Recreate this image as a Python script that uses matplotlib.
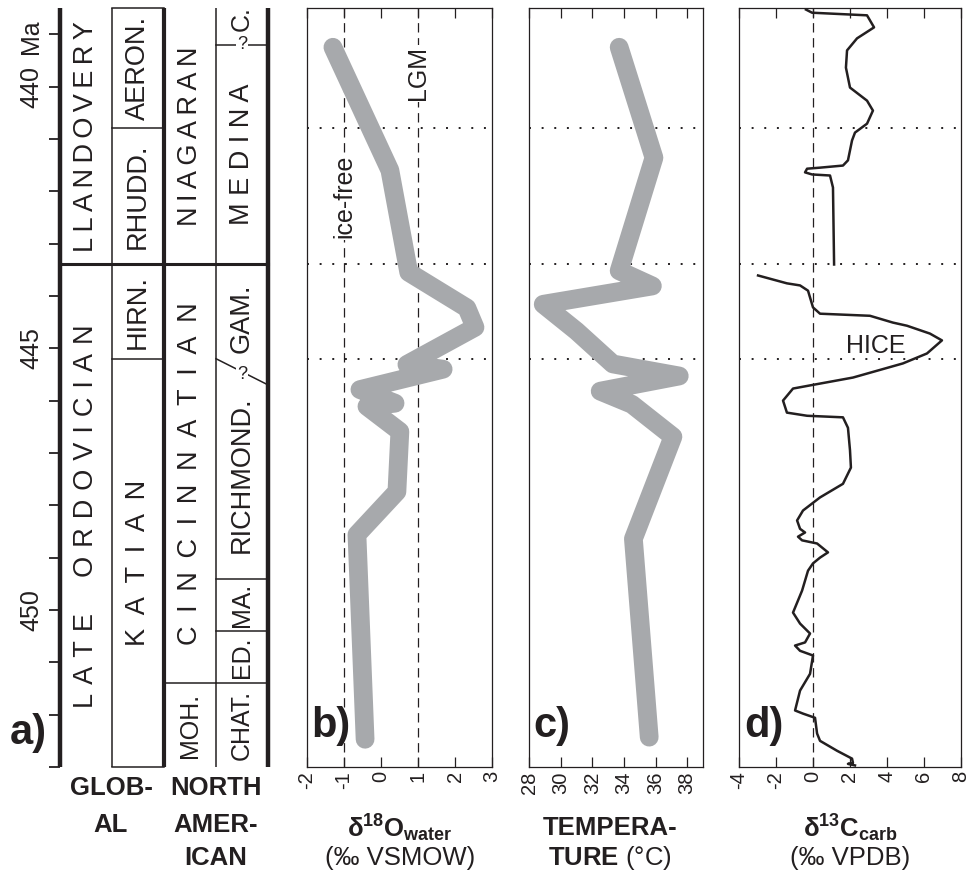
import matplotlib
matplotlib.use('Agg')
import matplotlib.pyplot as plt
from matplotlib.transforms import blended_transform_factory, ScaledTranslation

plt.rcParams['font.family'] = ['Liberation Sans', 'DejaVu Sans']
plt.rcParams['mathtext.fontset'] = 'custom'
plt.rcParams['mathtext.rm'] = 'Liberation Sans'
plt.rcParams['mathtext.bf'] = 'Liberation Sans:bold'
plt.rcParams['mathtext.default'] = 'bf'

INK = '#231f20'
GREY = '#a7a9ac'

# age axis (Ma), top of column and base
age_top, age_bot = 438.5, 453.0
age_ticks = [440, 445, 450]
age_ticklabels = ['440', '445', '450']
corr_lines = [440.8, 443.4, 445.2]      # dotted lines across b-d
sil_ord = 443.4                        # Silurian / Ordovician boundary

# stratigraphic columns, labels and their boundaries (Ma)
series_labels = ['LLANDOVERY', 'LATE ORDOVICIAN']
series_edges = [438.5, 443.4, 453.0]
stage_labels = ['AERON.', 'RHUDD.', 'HIRN.', 'KATIAN']
stage_edges = [438.5, 440.8, 443.4, 445.2, 453.0]
na_series_labels = ['NIAGARAN', 'CINCINNATIAN', 'MOH.']
na_series_edges = [438.5, 443.4, 451.4, 453.0]
na_stage_labels = ['C.', 'MEDINA', 'GAM.', 'RICHMOND.', 'MA.', 'ED.', 'CHAT.']
na_stage_edges = [438.5, 439.2, 443.4, 445.45, 449.4, 450.4, 451.4, 453.0]
gam_rich_top, gam_rich_bot = 445.2, 445.7   # slanted, uncertain boundary

# b) d18O of sea water (permil VSMOW)
o18_age = [439.25, 441.6, 443.55, 444.23, 444.6, 445.31, 445.40, 445.79,
           446.05, 446.11, 446.59, 447.74, 448.56, 452.47]
o18 = [-1.3, 0.24, 0.75, 2.32, 2.54, 0.70, 1.68, -0.57,
       0.38, -0.38, 0.51, 0.43, -0.65, -0.43]
o18_refs = [-1, 1]
o18_ref_names = ['ice-free', 'LGM']
o18_ref_ages = [442.1, 439.75]

# c) temperature (deg C)
temp_age = [439.25, 441.36, 443.52, 443.81, 444.16, 444.67, 445.3, 445.53,
            445.82, 446.07, 446.69, 448.64, 452.43]
temp = [33.7, 35.9, 33.7, 35.8, 28.9, 31.0, 33.3, 37.5,
        32.5, 34.5, 37.1, 34.6, 35.6]

# d) d13C carbonate (permil VPDB), two sections
c13_age_up = [438.53, 438.59, 438.64, 438.87, 439.08, 439.31, 439.64, 440.02,
              440.27, 440.46, 440.71, 440.88, 441.03, 441.41, 441.51, 441.55,
              441.57, 441.64, 441.68, 441.70, 441.93, 443.40]
c13_up = [-0.38, -0.05, 2.92, 3.30, 2.38, 1.84, 1.78, 2.00,
          2.92, 3.24, 2.92, 2.27, 2.11, 1.89, 1.62, 0.38,
          -0.32, -0.43, -0.05, 0.92, 1.08, 1.14]
c13_age_lo = [443.61, 443.76, 443.80, 443.90, 444.22, 444.34, 444.38, 444.51,
              444.57, 444.72, 444.85, 445.10, 445.29, 445.56, 445.71, 445.77,
              446.00, 446.23, 446.29, 446.32, 446.52, 446.95, 447.28, 447.59,
              447.85, 448.10, 448.29, 448.45, 448.52, 448.60, 448.67, 448.73,
              448.90, 449.00, 449.11, 449.25, 449.63, 450.05, 450.26, 450.45,
              450.62, 450.68, 450.78, 450.87, 451.22, 451.54, 451.92, 451.98,
              452.06, 452.36, 452.50, 452.69, 452.84, 452.92, 452.94, 452.97]
c13_lo = [-2.97, -1.41, -0.70, -0.27, 0.00, 0.38, 3.08, 4.32,
          5.08, 6.32, 6.97, 6.16, 4.86, 2.16, -0.16, -1.08,
          -1.62, -1.41, -0.32, 1.62, 1.89, 2.00, 2.05, 1.62,
          0.38, -0.54, -0.86, -0.70, -0.43, -0.81, -0.59, 0.22,
          0.81, 0.38, 0.00, -0.27, -0.59, -1.08, -0.70, -0.16,
          -0.43, -0.97, -0.70, 0.00, -0.16, -0.70, -0.97, -0.54,
          0.11, 0.22, 0.38, 1.30, 2.11, 2.16, 1.89, 2.27]


W, H = 969, 873
fig = plt.figure(figsize=(W / 100, H / 100), dpi=100)

# letter spacing used for the long names in the columns
letter_gap = {'LLANDOVERY': '\u2009', 'NIAGARAN': '\u2009', 'MEDINA': ' ',
              'LATE ORDOVICIAN': '\u2004', 'KATIAN': '\u2002',
              'CINCINNATIAN': '\u2002'}
small_labels = ['C.', 'MA.', 'ED.', 'CHAT.', 'MOH.']


def spaced(name):
    if name not in letter_gap:
        return name
    sep = letter_gap[name]
    return '\u2003\u2004'.join(sep.join(w) for w in name.split())


def px_axes(x0, x1, y0=8, y1=767):
    return fig.add_axes([x0 / W, 1 - y1 / H, (x1 - x0) / W, (y1 - y0) / H])


def fy(ypix):
    return 1 - ypix / H


# ---------- a) stratigraphy ----------
axa = px_axes(60, 268)
axa.set_xlim(0, 4)
axa.set_ylim(age_bot, age_top)
for s in axa.spines.values():
    s.set_visible(False)
axa.set_xticks([])
axa.set_yticks(age_ticks)
axa.set_yticks(range(439, 454), minor=True)
axa.set_yticklabels(age_ticklabels, rotation=90, va='center', fontsize=18, color=INK)
axa.tick_params(axis='y', which='both', direction='out', length=8, width=1.3,
                color=INK, pad=4)
trans = blended_transform_factory(axa.transAxes, axa.transData) + \
    ScaledTranslation(-12 / 72, 0, fig.dpi_scale_trans)
axa.text(0, 439.04, 'Ma', transform=trans, rotation=90, ha='right', va='center',
         fontsize=18, color=INK)

# vertical column lines
for x, lw in zip(range(5), [3.2, 1.1, 3.0, 1.1, 3.2]):
    axa.plot([x, x], [age_top, age_bot], color=INK, lw=lw, clip_on=False,
             solid_capstyle='butt')
axa.plot([0, 4], [sil_ord, sil_ord], color=INK, lw=2.2, clip_on=False)

thin = dict(color=INK, lw=1.1, clip_on=False)
for e in [age_top, stage_edges[1], stage_edges[3], age_bot]:
    axa.plot([1, 2], [e, e], **thin)
axa.plot([2, 3], [na_series_edges[2]] * 2, **thin)
for e in na_stage_edges[4:7]:
    axa.plot([3, 4], [e, e], **thin)
axa.plot([3, 4], [na_stage_edges[1]] * 2, **thin)
axa.plot([3, 4], [gam_rich_top, gam_rich_bot], **thin)
qbox = dict(facecolor='white', edgecolor='none', pad=0.5)
axa.text(3.5, na_stage_edges[1], '?', ha='center', va='center', fontsize=13,
         color=INK, bbox=qbox)
axa.text(3.5, (gam_rich_top + gam_rich_bot) / 2 + 0.05, '?', ha='center',
         va='center', fontsize=13, color=INK, bbox=qbox)

columns = [(series_labels, series_edges), (stage_labels, stage_edges),
           (na_series_labels, na_series_edges), (na_stage_labels, na_stage_edges)]
for col, (labels, edges) in enumerate(columns):
    for i, lab in enumerate(labels):
        mid = (edges[i] + edges[i + 1]) / 2
        if lab == 'C.':
            mid -= 0.15
        fs = 18 if lab in small_labels else 19.5
        axa.text(col + 0.5, mid, spaced(lab), rotation=90, ha='center',
                 va='center', fontsize=fs, color=INK)

fig.text(10 / W, fy(753), 'a)', fontsize=30, fontweight='bold', color=INK,
         ha='left', va='bottom')
for txt, y in zip(['GLOB-', 'AL'], [788, 825]):
    fig.text(111 / W, fy(y), txt, fontsize=18.5, fontweight='bold', color=INK,
             ha='center', va='center')
for txt, y in zip(['NORTH', 'AMER-', 'ICAN'], [788, 825, 858]):
    fig.text(216 / W, fy(y), txt, fontsize=18.5, fontweight='bold', color=INK,
             ha='center', va='center')


def setup_panel(ax, xlim, ticks, letter):
    ax.set_xlim(*xlim)
    ax.set_ylim(age_bot, age_top)
    ax.set_yticks([])
    ax.set_xticks(ticks)
    ax.set_xticklabels([str(t) for t in ticks], rotation=90, fontsize=14.5,
                       color=INK)
    ax.tick_params(axis='x', direction='in', top=True, bottom=True, length=7,
                   width=0.9, color=INK, pad=3)
    for s in ax.spines.values():
        s.set_linewidth(0.9)
        s.set_color(INK)
    for a in corr_lines:
        ax.axhline(a, color=INK, lw=1.4, linestyle=(0, (1, 5.5)), zorder=1)
    ax.text(0.025, 0.028, letter, transform=ax.transAxes, fontsize=30,
            fontweight='bold', color=INK, ha='left', va='bottom', zorder=5)


# ---------- b) d18O ----------
axb = px_axes(307, 492)
setup_panel(axb, (-2, 3), [-2, -1, 0, 1, 2, 3], 'b)')
for xr, name, ya in zip(o18_refs, o18_ref_names, o18_ref_ages):
    axb.axvline(xr, color=INK, lw=0.9, linestyle=(0, (7.5, 4.5)), zorder=1)
    axb.text(xr, ya, name, rotation=90, ha='center', va='center', fontsize=18,
             color=INK, zorder=2,
             bbox=dict(facecolor='white', edgecolor='none', pad=1))
axb.plot(o18, o18_age, color=GREY, lw=13.5, solid_capstyle='round',
         solid_joinstyle='round', zorder=3)
fig.text(400 / W, fy(828), 'δ$^{18}$O$_{water}$', fontsize=18.5,
         fontweight='bold', color=INK, ha='center', va='center')
fig.text(400 / W, fy(858), '(‰ VSMOW)', fontsize=18.5, color=INK,
         ha='center', va='center')

# ---------- c) temperature ----------
axc = px_axes(529, 703)
setup_panel(axc, (28, 39), [28, 30, 32, 34, 36, 38], 'c)')
axc.plot(temp, temp_age, color=GREY, lw=13.5, solid_capstyle='round',
         solid_joinstyle='round', zorder=3)
fig.text(610 / W, fy(828), 'TEMPERA-', fontsize=18.5, fontweight='bold',
         color=INK, ha='center', va='center')
fig.text(610 / W, fy(858), '$TURE$ (°C)', fontsize=18.5, color=INK,
         ha='center', va='center')

# ---------- d) d13C ----------
axd = px_axes(739, 961)
setup_panel(axd, (-4, 8), [-4, -2, 0, 2, 4, 6, 8], 'd)')
axd.axvline(0, color=INK, lw=0.9, linestyle=(0, (7.5, 4.5)), zorder=1)
axd.plot(c13_up, c13_age_up, color=INK, lw=1.8, solid_joinstyle='round', zorder=3)
axd.plot(c13_lo, c13_age_lo, color=INK, lw=1.8, solid_joinstyle='round', zorder=3)
axd.text(3.4, 444.95, 'HICE', ha='center', va='center', fontsize=18, color=INK)
fig.text(850 / W, fy(828), 'δ$^{13}$C$_{carb}$', fontsize=18.5,
         fontweight='bold', color=INK, ha='center', va='center')
fig.text(850 / W, fy(858), '(‰ VPDB)', fontsize=18.5, color=INK,
         ha='center', va='center')

fig.savefig('out.png', dpi=100)
